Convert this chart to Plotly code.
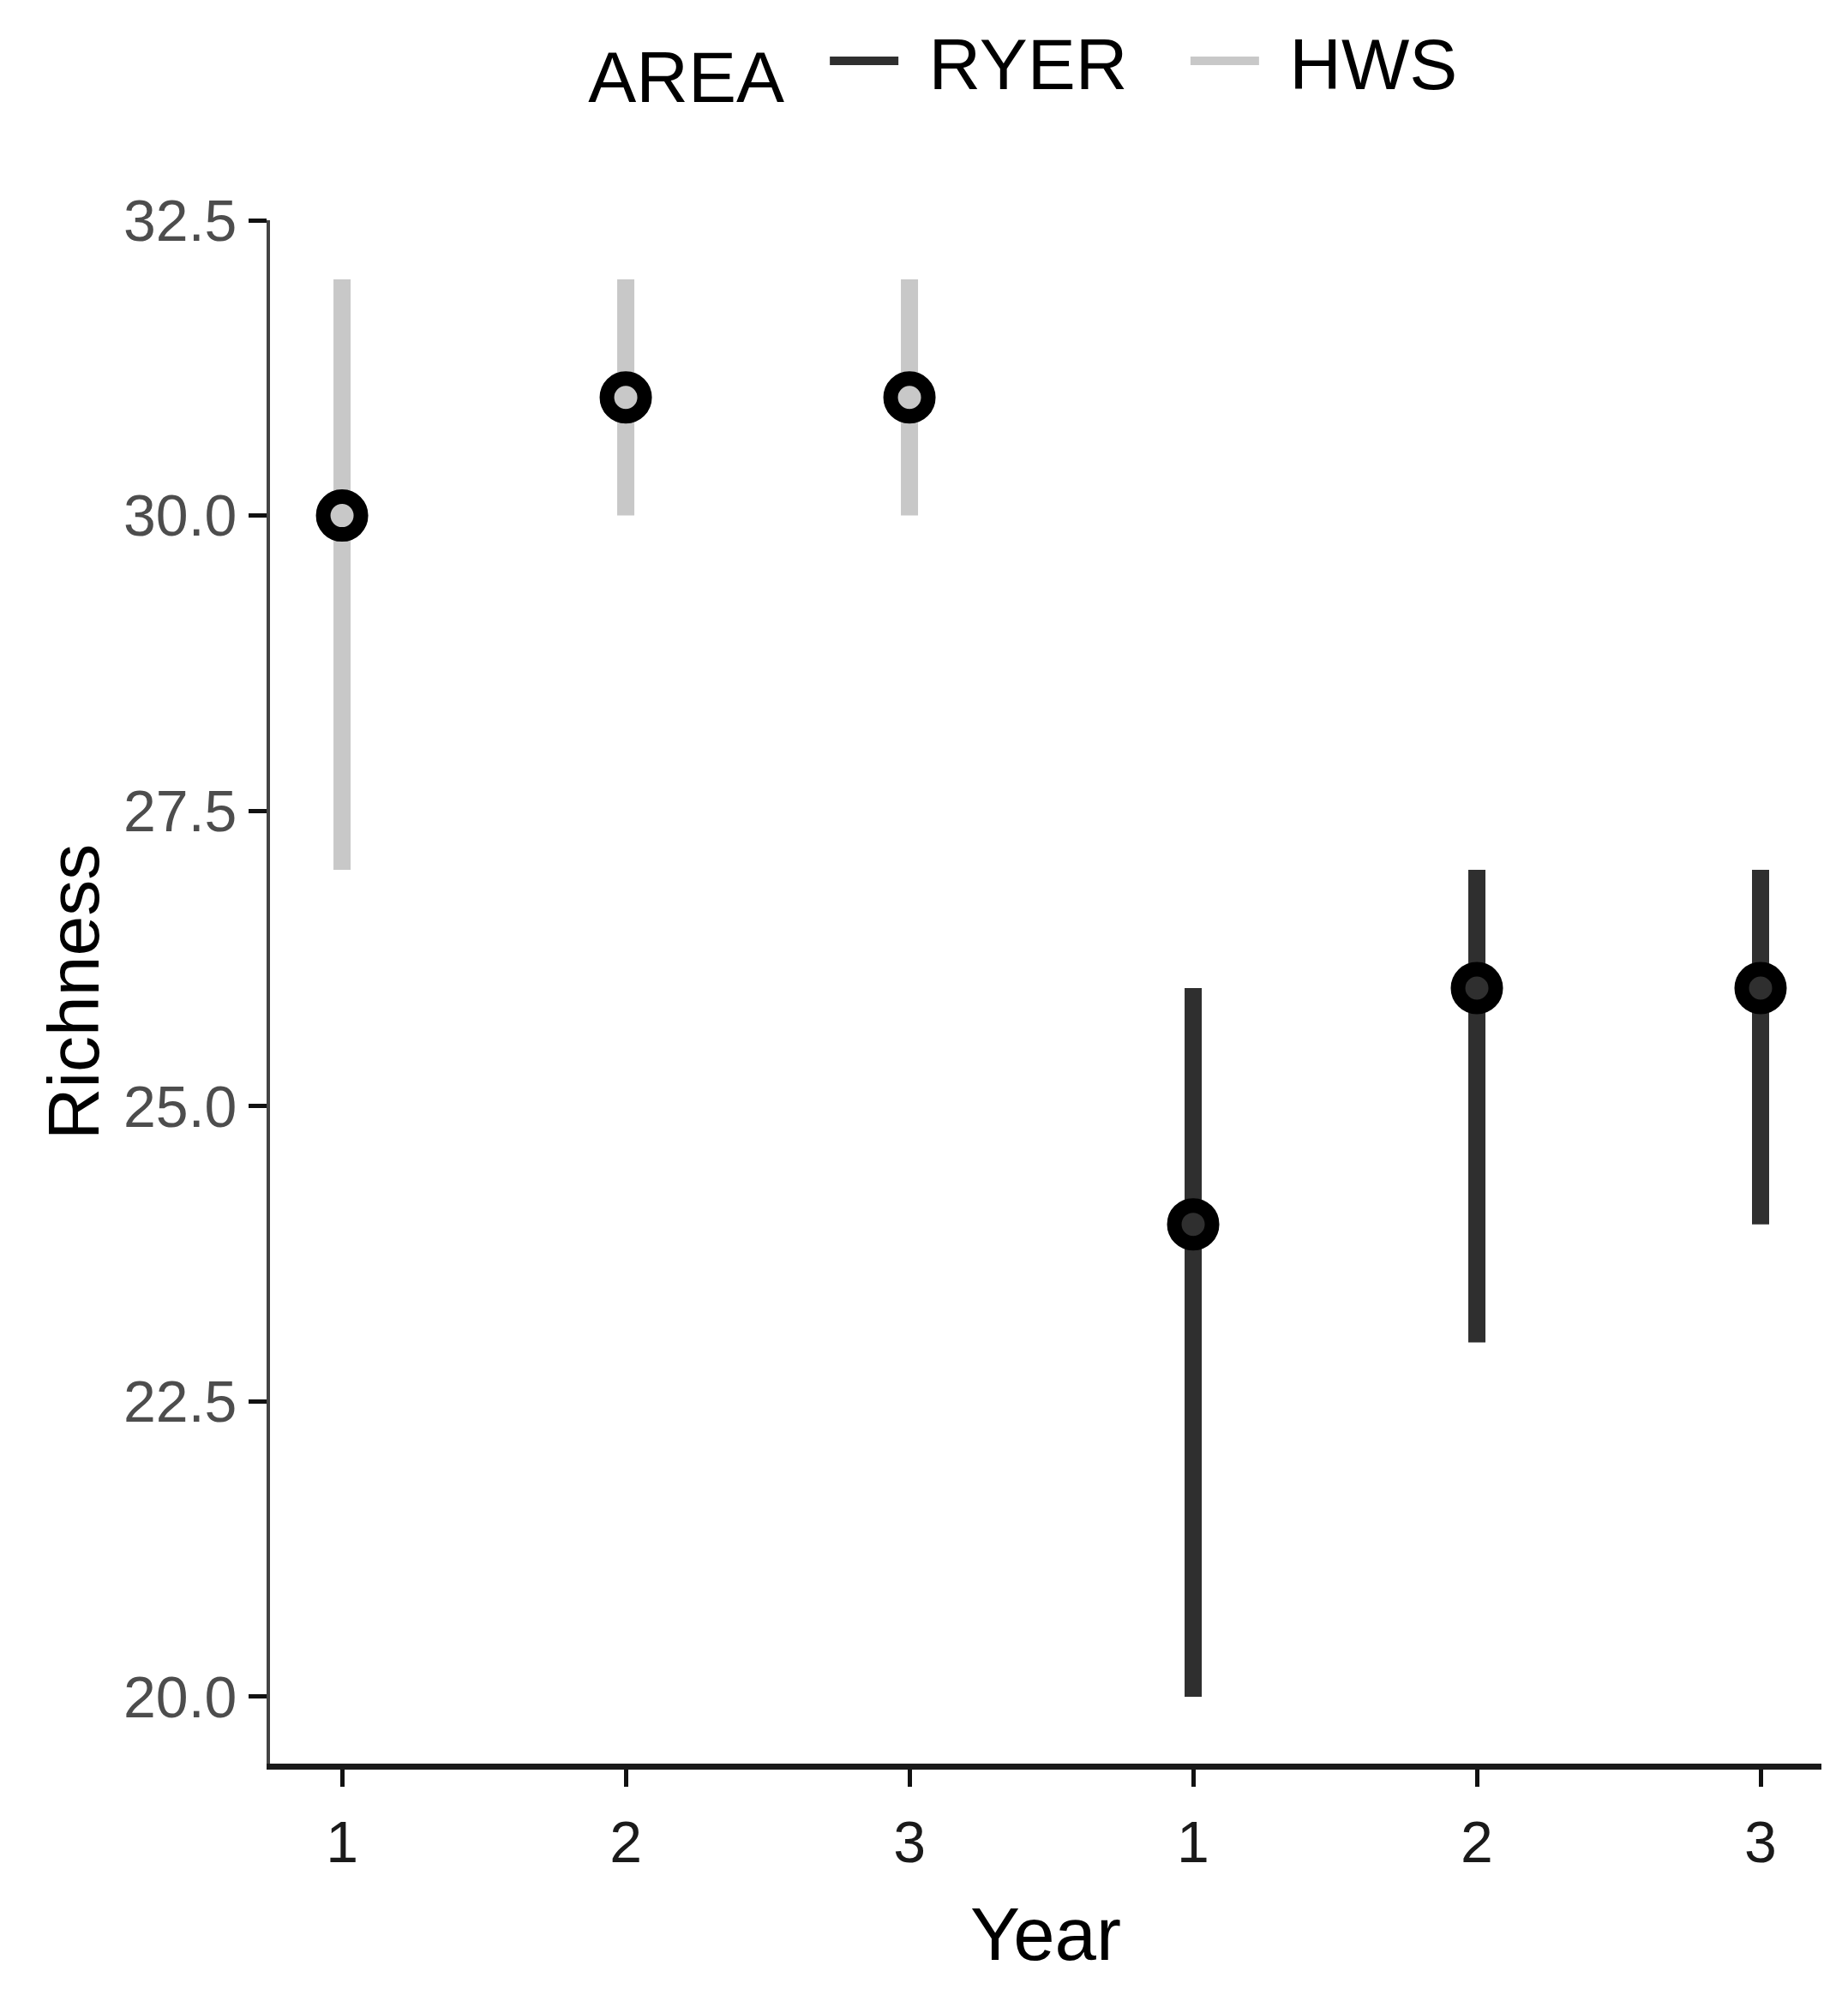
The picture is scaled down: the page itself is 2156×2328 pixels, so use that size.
import plotly.graph_objects as go

# x positions: HWS years 1-3 then RYER years 1-3
year_labels = ["1", "2", "3", "1", "2", "3"]

hws_x = [1, 2, 3]
hws_mean = [30, 31, 31]
hws_low = [27, 30, 30]
hws_high = [32, 32, 32]

ryer_x = [4, 5, 6]
ryer_mean = [24, 26, 26]
ryer_low = [20, 23, 24]
ryer_high = [26, 27, 27]

colors = {"RYER": "#2f2f2f", "HWS": "#c8c8c8"}
nb = "\u00a0"
thin = "\u2009"
hair = "\u200a"


def segments(xs, lows, highs):
    sx, sy = [], []
    for x, lo, hi in zip(xs, lows, highs):
        sx += [x, x, None]
        sy += [lo, hi, None]
    return sx, sy


fig = go.Figure()

# range lines (also used as legend entries)
for name, xs, lo, hi in [("RYER", ryer_x, ryer_low, ryer_high),
                         ("HWS", hws_x, hws_low, hws_high)]:
    sx, sy = segments(xs, lo, hi)
    fig.add_trace(go.Scatter(
        x=sx, y=sy, mode="lines",
        name=nb + hair + name + nb * 2 + thin,
        line=dict(color=colors[name], width=20),
        hoverinfo="skip",
    ))

# mean points
for name, xs, ys in [("RYER", ryer_x, ryer_mean), ("HWS", hws_x, hws_mean)]:
    fig.add_trace(go.Scatter(
        x=xs, y=ys, mode="markers", name=name, showlegend=False,
        marker=dict(size=44, color=colors[name],
                    line=dict(color="black", width=17)),
    ))

font_family = "Liberation Sans, Arial, sans-serif"

fig.update_layout(
    template="none",
    width=2140,
    height=2312,
    plot_bgcolor="white",
    paper_bgcolor="white",
    margin=dict(l=307, r=23, t=249, b=262, autoexpand=False),
    font=dict(family=font_family, color="black"),
    legend=dict(
        orientation="h",
        x=0.204, xanchor="left",
        y=1.103, yanchor="middle",
        valign="middle",
        title=dict(text="AREA" + nb + thin, side="left",
                   font=dict(size=84, color="black")),
        font=dict(size=84, color="black"),
        itemwidth=80,
        bgcolor="rgba(0,0,0,0)",
    ),
    showlegend=True,
)

fig.update_xaxes(
    automargin=False,
    range=[0.746, 6.2145],
    tickmode="array",
    tickvals=hws_x + ryer_x,
    ticktext=year_labels,
    showgrid=False,
    zeroline=False,
    showline=True,
    linecolor="#1a1a1a",
    linewidth=7,
    ticks="outside",
    ticklen=20,
    tickwidth=5,
    tickcolor="#111111",
    ticklabelstandoff=6,
    tickfont=dict(size=68, color="#1a1a1a"),
    title=dict(text="Year", font=dict(size=87, color="black"), standoff=43),
)

fig.update_yaxes(
    automargin=False,
    range=[19.434, 32.5],
    tickmode="array",
    tickvals=[20.0, 22.5, 25.0, 27.5, 30.0, 32.5],
    tickformat=".1f",
    showgrid=False,
    zeroline=False,
    showline=True,
    linecolor="#444444",
    linewidth=4,
    ticks="outside",
    ticklen=21,
    tickwidth=5,
    tickcolor="#111111",
    tickfont=dict(size=68, color="#4d4d4d"),
    title=dict(text="Richness", font=dict(size=84, color="black"), standoff=2),
)

fig.write_html("out.html")
